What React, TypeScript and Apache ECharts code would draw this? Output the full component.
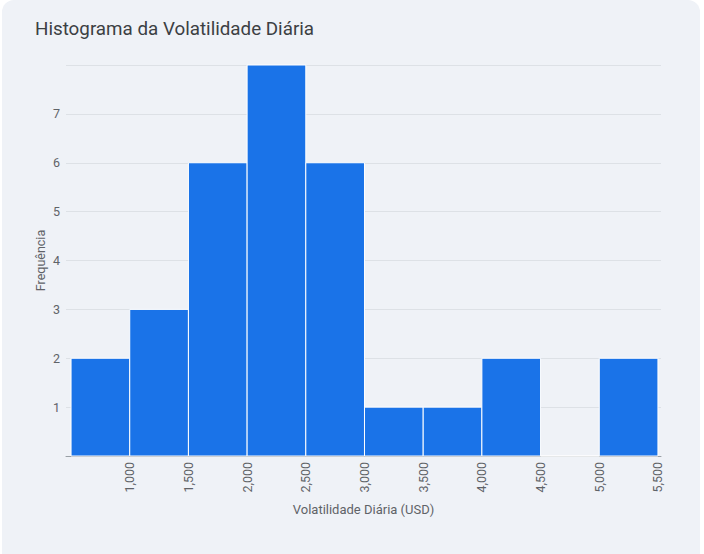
import React, { useEffect, useRef } from "react";
import * as echarts from "echarts";

const binStarts = [500, 1000, 1500, 2000, 2500, 3000, 3500, 4000, 4500, 5000];
const binWidth = 500;
const frequencies = [2, 3, 6, 8, 6, 1, 1, 2, 0, 2];
const xTickValues = [1000, 1500, 2000, 2500, 3000, 3500, 4000, 4500, 5000, 5500];
const yTickValues = [1, 2, 3, 4, 5, 6, 7];

const title = "Histograma da Volatilidade Diária";
const xTitle = "Volatilidade Diária (USD)";
const yTitle = "Frequência";

export default function App() {
  const ref = useRef<HTMLDivElement>(null);

  useEffect(() => {
    document.body.style.margin = "0";
    const chart = echarts.init(ref.current!, null, { renderer: "svg" });
    const data = binStarts.map((s, i) => [s, s + binWidth, frequencies[i]]);
    const font = "Roboto, 'Noto Sans', sans-serif";
    chart.setOption({
      animation: false,
      backgroundColor: "transparent",
      title: {
        text: title,
        left: 30,
        top: 14,
        textStyle: { fontFamily: font, fontSize: 18.8, fontWeight: 400, color: "#3c4043" },
      },
      grid: { left: 66, right: 43, top: 65, bottom: 98, containLabel: false },
      xAxis: {
        type: "value",
        min: 457,
        max: 5526,
        name: xTitle,
        nameLocation: "middle",
        nameGap: 47,
        nameMoveOverlap: false,
        nameTextStyle: { fontFamily: font, fontSize: 13, color: "#5f6368" },
        axisLine: { show: true, lineStyle: { color: "#9aa0a6", width: 1 } },
        axisTick: { show: false },
        splitLine: { show: false },
        axisLabel: {
          customValues: xTickValues,
          rotate: 90,
          margin: 6,
          fontFamily: font,
          fontSize: 12.5,
          color: "#5f6368",
          formatter: (v: number) => v.toLocaleString("en-US"),
        },
      },
      yAxis: {
        type: "value",
        min: 0,
        max: 8,
        interval: 1,
        name: yTitle,
        nameLocation: "middle",
        nameGap: 19,
        nameMoveOverlap: false,
        nameRotate: 90,
        nameTextStyle: { fontFamily: font, fontSize: 12.5, color: "#5f6368" },
        axisLine: { show: false },
        axisTick: { show: false },
        splitLine: { show: true, lineStyle: { color: "#dde1e6", width: 1 } },
        axisLabel: {
          customValues: yTickValues,
          margin: 6,
          fontFamily: font,
          fontSize: 12.5,
          color: "#5f6368",
        },
      },
      series: [
        {
          type: "custom",
          data,
          encode: { x: [0, 1], y: 2 },
          renderItem: (params: any, api: any) => {
            const x0 = api.value(0);
            const x1 = api.value(1);
            const y = api.value(2);
            const p0 = api.coord([x0, y]);
            const p1 = api.coord([x1, 0]);
            return {
              type: "rect",
              shape: { x: p0[0], y: p0[1], width: p1[0] - p0[0], height: p1[1] - p0[1] },
              style: { fill: "#1a73e8", stroke: "#ffffff", lineWidth: 1 },
            };
          },
        },
      ],
    });
    return () => chart.dispose();
  }, []);

  return (
    <div style={{ position: "fixed", left: 0, top: 0, width: 704, height: 554, background: "#ffffff", overflow: "hidden" }}>
      <div
        style={{
          position: "absolute",
          left: 2,
          top: 0,
          width: 698,
          height: 580,
          borderRadius: 12,
          background: "#eff2f7",
        }}
      />
      <div ref={ref} style={{ position: "absolute", left: 0, top: 0, width: 704, height: 554 }} />
    </div>
  );
}
